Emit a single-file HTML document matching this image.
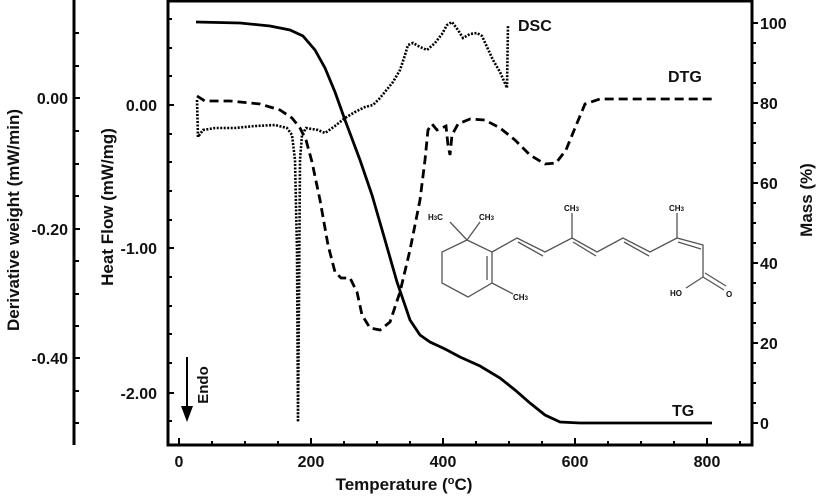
<!DOCTYPE html>
<html><head><meta charset="utf-8"><style>
body{margin:0;background:#fff}
svg{display:block}
text{font-family:"Liberation Sans",Arial,sans-serif;font-weight:bold;fill:#111}
</style></head><body>
<svg width="819" height="497" viewBox="0 0 819 497" xmlns="http://www.w3.org/2000/svg">
<rect width="819" height="497" fill="#fff"/>
<line x1="74" y1="0" x2="74" y2="445" stroke="#000" stroke-width="3"/>
<g stroke="#000" stroke-width="2">
<line x1="74" y1="33" x2="79" y2="33"/><line x1="74" y1="66" x2="79" y2="66"/><line x1="74" y1="98" x2="80" y2="98"/>
<line x1="74" y1="131" x2="79" y2="131"/><line x1="74" y1="164" x2="79" y2="164"/><line x1="74" y1="196" x2="79" y2="196"/>
<line x1="74" y1="229" x2="80" y2="229"/><line x1="74" y1="261" x2="79" y2="261"/><line x1="74" y1="294" x2="79" y2="294"/>
<line x1="74" y1="326" x2="79" y2="326"/><line x1="74" y1="358" x2="80" y2="358"/><line x1="74" y1="391" x2="79" y2="391"/><line x1="74" y1="423" x2="79" y2="423"/>
</g>
<g font-size="16" text-anchor="end">
<text x="68" y="104">0.00</text><text x="68" y="235">-0.20</text><text x="68" y="364">-0.40</text>
</g>
<text font-size="17" transform="translate(19,220) rotate(-90)" text-anchor="middle">Derivative weight (mW/min)</text>
<text font-size="17" transform="translate(113,207) rotate(-90)" text-anchor="middle">Heat Flow (mW/mg)</text>
<rect x="168" y="1" width="584" height="444" fill="none" stroke="#000" stroke-width="3"/>
<g stroke="#000" stroke-width="2">
<line x1="168" y1="19" x2="172" y2="19"/><line x1="168" y1="48" x2="172" y2="48"/><line x1="168" y1="76" x2="172" y2="76"/><line x1="168" y1="105" x2="174" y2="105"/>
<line x1="168" y1="134" x2="172" y2="134"/><line x1="168" y1="162" x2="172" y2="162"/><line x1="168" y1="191" x2="172" y2="191"/><line x1="168" y1="220" x2="172" y2="220"/>
<line x1="168" y1="248" x2="174" y2="248"/><line x1="168" y1="277" x2="172" y2="277"/><line x1="168" y1="306" x2="172" y2="306"/><line x1="168" y1="334" x2="172" y2="334"/>
<line x1="168" y1="363" x2="172" y2="363"/><line x1="168" y1="393" x2="174" y2="393"/><line x1="168" y1="421" x2="172" y2="421"/>
<line x1="179" y1="445" x2="179" y2="438"/><line x1="212" y1="445" x2="212" y2="441"/><line x1="245" y1="445" x2="245" y2="441"/><line x1="278" y1="445" x2="278" y2="441"/>
<line x1="311" y1="445" x2="311" y2="438"/><line x1="344" y1="445" x2="344" y2="441"/><line x1="377" y1="445" x2="377" y2="441"/><line x1="410" y1="445" x2="410" y2="441"/>
<line x1="443" y1="445" x2="443" y2="438"/><line x1="476" y1="445" x2="476" y2="441"/><line x1="509" y1="445" x2="509" y2="441"/><line x1="542" y1="445" x2="542" y2="441"/>
<line x1="575" y1="445" x2="575" y2="438"/><line x1="608" y1="445" x2="608" y2="441"/><line x1="641" y1="445" x2="641" y2="441"/><line x1="674" y1="445" x2="674" y2="441"/>
<line x1="707" y1="445" x2="707" y2="438"/><line x1="740" y1="445" x2="740" y2="441"/>
<line x1="752" y1="23" x2="758" y2="23"/><line x1="752" y1="43" x2="756" y2="43"/><line x1="752" y1="63" x2="756" y2="63"/><line x1="752" y1="83" x2="756" y2="83"/>
<line x1="752" y1="103" x2="758" y2="103"/><line x1="752" y1="123" x2="756" y2="123"/><line x1="752" y1="143" x2="756" y2="143"/><line x1="752" y1="163" x2="756" y2="163"/>
<line x1="752" y1="183" x2="758" y2="183"/><line x1="752" y1="203" x2="756" y2="203"/><line x1="752" y1="223" x2="756" y2="223"/><line x1="752" y1="243" x2="756" y2="243"/>
<line x1="752" y1="263" x2="758" y2="263"/><line x1="752" y1="283" x2="756" y2="283"/><line x1="752" y1="303" x2="756" y2="303"/><line x1="752" y1="323" x2="756" y2="323"/>
<line x1="752" y1="343" x2="758" y2="343"/><line x1="752" y1="363" x2="756" y2="363"/><line x1="752" y1="383" x2="756" y2="383"/><line x1="752" y1="403" x2="756" y2="403"/>
<line x1="752" y1="423" x2="758" y2="423"/>
</g>
<g font-size="16" text-anchor="end">
<text x="157" y="111">0.00</text><text x="157" y="254">-1.00</text><text x="157" y="399">-2.00</text>
</g>
<g font-size="16" text-anchor="start">
<text x="760" y="29">100</text><text x="760" y="109">80</text><text x="760" y="189">60</text><text x="760" y="269">40</text><text x="760" y="349">20</text><text x="760" y="429">0</text>
</g>
<text font-size="17" transform="translate(812,200) rotate(-90)" text-anchor="middle">Mass (%)</text>
<g font-size="16" text-anchor="middle">
<text x="179" y="467">0</text><text x="311" y="467">200</text><text x="443" y="467">400</text><text x="575" y="467">600</text><text x="707" y="467">800</text>
</g>
<text x="404" y="490" font-size="17" text-anchor="middle">Temperature (<tspan font-size="11" dy="-6">o</tspan><tspan dy="6">C)</tspan></text>
<path d="M196,22 L240,23 L270,26 L290,30 L303,36 L315,50 L325,68 L335,92 L345,120 L360,160 L372,195 L385,240 L397,282 L410,320 L420,335 L430,342 L445,349 L460,357 L480,366 L500,378 L515,390 L530,403 L545,415 L560,422 L580,423 L712,423" fill="none" stroke="#000" stroke-width="2.8"/>
<path d="M197,100 L198,137 L203,130 L215,128 L235,128 L255,126 L275,125 L287,128 L292,135 L295,160 L297,250 L298,422 L299,300 L300,160 L302,135 L306,128 L318,130 L325,133 L335,126 L345,118 L355,112 L365,107 L373,105 L380,98 L393,82 L400,70 L405,55 L408,45 L413,43 L420,47 L427,50 L435,43 L442,34 L447,25 L452,22 L458,30 L463,38 L470,34 L477,33 L482,36 L487,47 L493,60 L500,72 L507,88 L508,25" fill="none" stroke="#000" stroke-width="2.6" stroke-dasharray="2,1.5"/>
<path d="M197,96 L205,101 L230,101 L260,104 L280,110 L292,118 L300,128 L306,140 L312,162 L320,200 L328,245 L335,272 L341,278 L350,278 L357,292 L362,315 L370,328 L380,330 L390,322 L400,292 L410,250 L420,200 L425,160 L428,130 L432,124 L437,130 L442,128 L446,126 L448,145 L450,155 L452,135 L458,124 L470,119 L485,120 L500,128 L515,140 L530,155 L545,164 L556,163 L566,150 L575,128 L585,104 L600,99 L650,99 L712,99" fill="none" stroke="#000" stroke-width="2.8" stroke-dasharray="9,5"/>
<text x="518" y="31" font-size="16">DSC</text>
<text x="668" y="82" font-size="16">DTG</text>
<text x="672" y="416" font-size="16">TG</text>
<line x1="187" y1="357" x2="187" y2="408" stroke="#000" stroke-width="2"/>
<polygon points="181,406 193,406 187,422" fill="#000"/>
<text font-size="15" transform="translate(208,385) rotate(-90)" text-anchor="middle">Endo</text>
<g stroke="#555" stroke-width="1.3" fill="none">
<polyline points="467,240 492,252 492,283 468,297 442,283 442,252 467,240"/>
<line x1="487" y1="256" x2="487" y2="280"/>
<line x1="467" y1="240" x2="450" y2="222"/><line x1="467" y1="240" x2="480" y2="222"/>
<line x1="492" y1="283" x2="513" y2="294"/>
<polyline points="492,252 517,238 545,252 572,238 597,252 623,238 650,252 677,238 703,245 703,277"/>
<line x1="518" y1="242" x2="543" y2="256"/><line x1="573" y1="242" x2="596" y2="256"/><line x1="624" y1="242" x2="649" y2="256"/><line x1="678" y1="242" x2="701" y2="249"/>
<line x1="572" y1="238" x2="572" y2="213"/><line x1="677" y1="238" x2="677" y2="213"/>
<line x1="703" y1="277" x2="686" y2="288"/><line x1="703" y1="277" x2="724" y2="290"/><line x1="705" y1="273" x2="726" y2="286"/>
</g>
<g font-size="8" style="fill:#333">
<text x="428" y="220">H<tspan font-size="6">3</tspan>C</text>
<text x="479" y="220">CH<tspan font-size="6">3</tspan></text>
<text x="513" y="300">CH<tspan font-size="6">3</tspan></text>
<text x="564" y="211">CH<tspan font-size="6">3</tspan></text>
<text x="669" y="211">CH<tspan font-size="6">3</tspan></text>
<text x="670" y="296">HO</text>
<text x="726" y="297">O</text>
</g>
</svg>
</body></html>
